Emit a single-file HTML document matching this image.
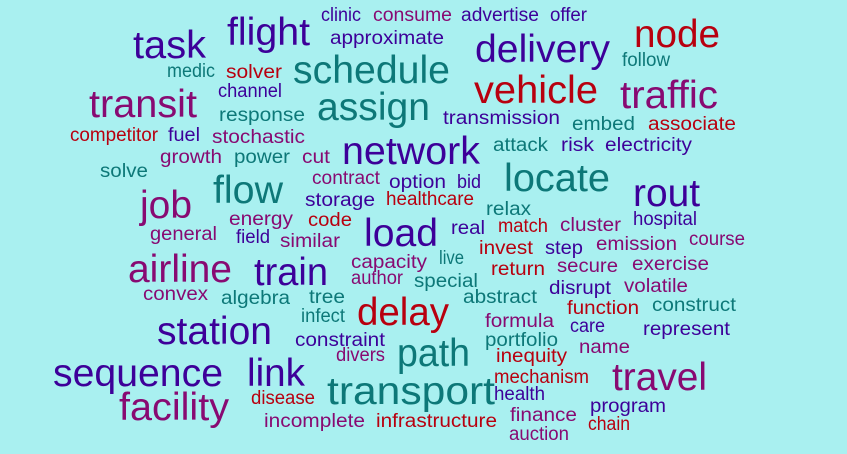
<!DOCTYPE html>
<html><head><meta charset="utf-8"><style>
html,body{margin:0;padding:0;background:#a9f0f0;}
svg{display:block;}
text{font-family:"Liberation Sans",Arial,sans-serif;}
</style></head><body>
<svg id="cloud" width="847" height="454" viewBox="0 0 847 454">
<rect width="847" height="454" fill="#a9f0f0"/>
</svg>
<script>
const words=["clinic","consume","advertise","offer","task","flight","approximate","delivery","node","follow","medic","solver","schedule","channel","transit","response","assign","vehicle","traffic","transmission","embed","associate","competitor","fuel","stochastic","network","attack","risk","electricity","growth","power","cut","solve","contract","option","bid","locate","flow","job","storage","healthcare","relax","rout","energy","code","load","real","match","cluster","hospital","general","field","similar","invest","step","emission","course","airline","train","capacity","author","live","special","return","secure","exercise","convex","algebra","tree","delay","abstract","disrupt","volatile","infect","function","construct","station","formula","care","represent","constraint","path","portfolio","name","divers","inequity","sequence","link","mechanism","travel","transport","health","disease","facility","program","finance","chain","incomplete","infrastructure","auction"];
const weights=[1,1,1,1,3,3,1,3,3,1,1,1,3,1,3,1,3,3,3,1,1,1,1,1,1,3,1,1,1,1,1,1,1,1,1,1,3,3,3,1,1,1,3,1,1,3,1,1,1,1,1,1,1,1,1,1,1,3,3,1,1,1,1,1,1,1,1,1,1,3,1,1,1,1,1,1,3,1,1,1,1,3,1,1,1,1,3,3,1,3,3,1,1,3,1,1,1,1,1,1];
const colorGroups=["b","p","b","b","b","b","b","b","r","t","t","r","t","b","p","t","t","r","p","b","t","r","r","b","p","b","t","b","b","p","t","p","t","p","b","b","t","t","p","b","r","t","b","p","r","b","b","r","p","b","p","b","p","r","b","p","p","p","b","p","p","t","t","r","p","p","p","t","t","r","t","b","p","t","r","t","b","p","b","b","b","t","t","p","p","r","b","b","r","p","t","b","r","p","b","p","r","p","r","p"];
const layoutX=[321,373,461,550,133,227,330,475,634,622,167,226,293,218,89,219,317,474,620,443,572,648,70,168,212,342,493,561,605,160,234,302,100,312,389,457,504,213,140,305,386,486,633,229,308,364,451,498,560,633,150,236,280,479,545,596,689,128,254,351,351,439,414,491,557,632,143,221,309,357,463,549,624,301,567,652,157,485,570,643,295,397,485,579,336,496,53,247,494,612,327,494,251,119,590,510,588,264,376,509];
const layoutY=[21,21,21,21,58,45,44,62,47,66,77,78,83,97,117,121,120,103,108,124,130,130,141,141,143,164,151,151,151,163,163,163,177,184,188,188,191,203,218,206,205,215,206,225,226,246,234,232,231,225,240,243,247,254,254,250,245,282,285,268,284,264,287,275,272,270,300,304,303,325,303,294,292,322,314,311,344,327,332,335,346,366,346,353,361,362,386,386,383,390,404,400,404,420,412,421,430,427,427,440];
const layoutW=[40,79,78,37,73,83,114,135,86,48,48,56,157,64,108,86,113,124,98,117,63,88,88,32,93,138,55,33,87,62,56,28,48,68,57,24,106,70,52,70,88,45,67,64,44,74,34,50,61,64,67,34,60,54,38,81,56,104,74,76,52,25,64,54,61,77,65,69,36,92,74,62,64,44,72,84,115,69,35,87,90,73,73,51,49,71,170,58,95,95,168,51,64,110,76,67,42,101,121,60];
const palette={b:"#3d0099",t:"#0d7878",p:"#880a72",r:"#b8000f"};
function fontSize(w){return w>=3?39:19;}
const svg=document.getElementById('cloud');
const NS="http://www.w3.org/2000/svg";
for(let i=0;i<words.length;i++){
  const t=document.createElementNS(NS,'text');
  t.setAttribute('x',layoutX[i]);
  t.setAttribute('y',layoutY[i]);
  t.setAttribute('font-size',fontSize(weights[i]));
  t.setAttribute('fill',palette[colorGroups[i]]);
  t.setAttribute('textLength',layoutW[i]);
  t.setAttribute('lengthAdjust','spacingAndGlyphs');
  t.textContent=words[i];
  
  
  svg.appendChild(t);
}
</script>
</body></html>
